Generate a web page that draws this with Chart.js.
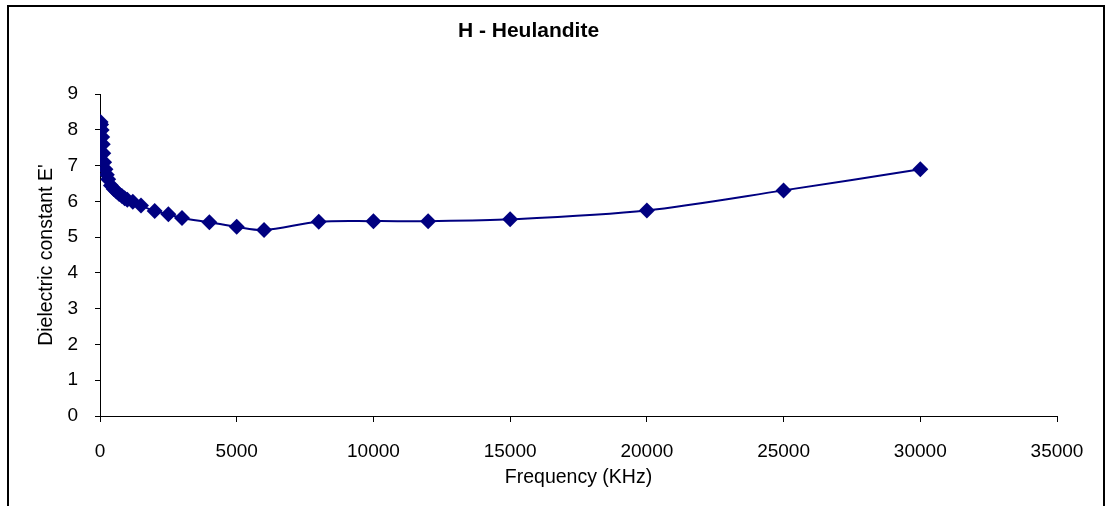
<!DOCTYPE html>
<html>
<head>
<meta charset="utf-8">
<script src="https://cdn.jsdelivr.net/npm/chart.js@4.4.1/dist/chart.umd.min.js"></script>
<style>
  body { margin: 0; background: #fff; }
  #wrap { width: 1108px; height: 506px; }
</style>
</head>
<body>
<div id="wrap"><canvas id="grafico" width="1108" height="506"></canvas></div>
<script>
// Frequência (KHz) e constante dielétrica
const frequencias = [20, 40, 60, 80, 100, 120, 150, 200, 250, 300, 400, 500, 600, 700, 800, 900,
  1000, 1200, 1500, 2000, 2500, 3000, 4000, 5000, 6000, 8000, 10000, 12000, 15000, 20000, 25000, 30000];
const constante = [8.22, 8.15, 8.0, 7.8, 7.6, 7.35, 7.1, 6.9, 6.75, 6.62, 6.45, 6.35, 6.28, 6.21, 6.15, 6.09,
  6.05, 5.99, 5.89, 5.73, 5.64, 5.54, 5.42, 5.29, 5.20, 5.43, 5.45, 5.45, 5.50, 5.75, 6.31, 6.90];

const titulo = "H - Heulandite";
const tituloX = "Frequency (KHz)";
const tituloY = "Dielectric constant E'";

const pontos = frequencias.map((f, i) => ({ x: f, y: constante[i] }));

const fonte = "Liberation Sans, Arial, sans-serif";

// moldura em volta do gráfico
const moldura = {
  id: 'moldura',
  afterDraw(chart) {
    const ctx = chart.ctx;
    ctx.save();
    ctx.strokeStyle = '#000';
    ctx.lineWidth = 2;
    ctx.strokeRect(8, 6, 1096, 600);
    ctx.restore();
  }
};

new Chart(document.getElementById("grafico").getContext("2d"), {
  type: 'line',
  data: {
    datasets: [{
      data: pontos,
      borderColor: '#000080',
      backgroundColor: '#000080',
      borderWidth: 2,
      pointStyle: 'rectRot',
      pointRadius: 8,
      pointBorderWidth: 0,
      tension: 0.3,
      fill: false
    }]
  },
  options: {
    responsive: false,
    animation: false,
    layout: { padding: { left: 0, right: 51, top: 0, bottom: 0 } },
    plugins: {
      legend: { display: false },
      tooltip: { enabled: false },
      title: {
        display: true,
        text: titulo,
        color: '#000',
        font: { family: fonte, size: 21, weight: 'bold' },
        padding: { top: 19, bottom: 50 }
      }
    },
    scales: {
      x: {
        type: 'linear',
        min: 0,
        max: 35000,
        afterFit: s => { s.height = 90; },
        ticks: { stepSize: 5000, color: '#000', padding: 18, maxRotation: 0,
          callback: v => String(v),
          font: { family: fonte, size: 19 } },
        grid: { drawOnChartArea: false, drawTicks: true, tickLength: 6, color: '#000' },
        border: { display: true, color: '#000', width: 1 },
        title: { display: true, text: tituloX, color: '#000',
          font: { family: fonte, size: 19.5 }, padding: { top: 0, bottom: 17 } }
      },
      y: {
        min: 0,
        max: 9,
        afterFit: s => { s.width = 100; },
        ticks: { stepSize: 1, color: '#000', padding: 17,
          font: { family: fonte, size: 19 } },
        grid: { drawOnChartArea: false, drawTicks: true, tickLength: 5, color: '#000' },
        border: { display: true, color: '#000', width: 1 },
        title: { display: true, text: tituloY, color: '#000',
          font: { family: fonte, size: 19.5 }, padding: { top: 35, bottom: 0 } }
      }
    }
  },
  plugins: [moldura]
});
</script>
</body>
</html>
